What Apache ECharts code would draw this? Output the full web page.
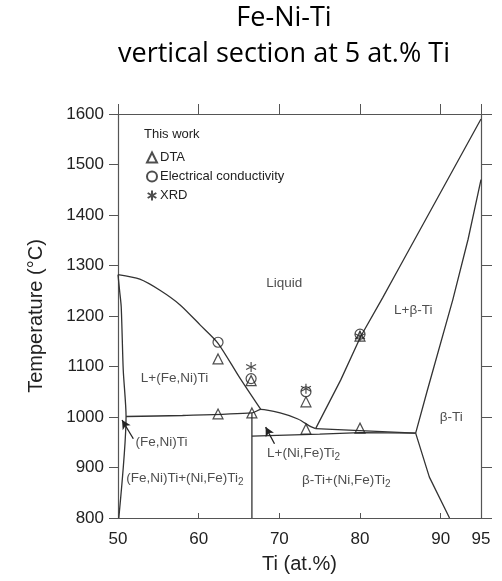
<!DOCTYPE html>
<html><head><meta charset="utf-8">
<script src="https://cdn.jsdelivr.net/npm/echarts@6/dist/echarts.min.js"></script>
<style>html,body{margin:0;padding:0;background:#fff}#c{width:502px;height:581px}</style>
</head><body><div id="c"></div>
<script>
// ---- text ----
const titleLines = ['Fe-Ni-Ti', 'vertical section at 5 at.% Ti'];
const xAxisName = 'Ti (at.%)';
const yAxisName = 'Temperature (°C)';
const legendHeader = 'This work';
const seriesNames = ['DTA', 'Electrical conductivity', 'XRD'];

// ---- measured points ----
const dtaPoints = [[62.4,1115],[66.5,1072],[73.3,1030],[80.0,1160],[62.4,1006],[66.6,1008],[73.3,976],[80.0,978]];
const conductivityPoints = [[62.4,1148],[66.5,1076],[73.3,1050],[80.0,1164]];
const xrdPoints = [[66.5,1099],[73.3,1056],[80.0,1160]];

// ---- phase boundaries ----
const liquidusFeNiTi = [[50,1282],[52.7,1273],[55.2,1251],[57.7,1222],[60.2,1182],[62.4,1146],[65.0,1080],[67.7,1015]];
const solvusFeNiTi = [[50,1282],[50.2,1250],[50.4,1218],[50.65,1093],[51.0,1001],[50.1,800]];
const eutecticLeft = [[51.0,1001],[58,1003],[66.6,1008],[67.7,1015],[70.1,1008],[72.3,996],[73.9,981],[74.5,977]];
const compoundLine = [[66.6,1008],[66.6,800]];
const lowerLine = [[66.6,962],[75,966],[80,969],[86.9,968]];
const upperLine = [[74.5,977],[80,973],[86.9,968]];
const liquidusBeta = [[74.5,977],[77.6,1073],[80.1,1160],[82.8,1236],[84.8,1294],[95,1590]];
const solidusBeta = [[86.9,968],[88.3,1050],[91.5,1232],[93.4,1352],[95,1470]];
const solvusBeta = [[86.9,968],[88.6,881],[91.1,800]];
const curvedBoundaries = [liquidusFeNiTi, solvusFeNiTi, eutecticLeft];
const straightBoundaries = [compoundLine, lowerLine, upperLine, liquidusBeta, solidusBeta, solvusBeta];

// ---- annotation arrows & region labels (data coords) ----
const arrowFeNiTi = [[51.9,957],[50.5,994]];
const arrowLNiFeTi2 = [[69.4,947],[68.3,980]];
const regionLabels = ['Liquid','L+(Fe,Ni)Ti','L+β-Ti','β-Ti','(Fe,Ni)Ti','(Fe,Ni)Ti+(Ni,Fe)Ti2','L+(Ni,Fe)Ti2','β-Ti+(Ni,Fe)Ti2'];
const regionLabelPos = [[70.6,1265],[57.0,1077],[86.6,1212],[91.3,1000],[55.4,950],[58.3,879],[73.0,929],[78.3,875]];

const chart = echarts.init(document.getElementById('c'));
const FONT = '"Liberation Sans", Arial, sans-serif';
const lineCol = '#333';
const axisCol = '#555';

function fmtLabel(t){
  if (/Ti2$/.test(t)) return '{a|' + t.slice(0,-1) + '}{s|2}';
  return '{a|' + t + '}';
}

const series = [];
curvedBoundaries.forEach(function(b){
  series.push({type:'line', data:b, showSymbol:false, symbol:'none', smooth:0.25, silent:true,
    lineStyle:{color:lineCol, width:1.3}, z:2});
});
straightBoundaries.forEach(function(b){
  series.push({type:'line', data:b, showSymbol:false, symbol:'none', smooth:false, silent:true,
    lineStyle:{color:lineCol, width:1.3}, z:2});
});
series.push({type:'scatter', name:seriesNames[0], data:dtaPoints, symbol:'triangle', symbolSize:10,
  itemStyle:{color:'rgba(255,255,255,0)', borderColor:'#222', borderWidth:1.2}, z:5});
series.push({type:'scatter', name:seriesNames[1], data:conductivityPoints, symbol:'circle', symbolSize:10,
  itemStyle:{color:'rgba(255,255,255,0)', borderColor:'#222', borderWidth:1.2}, z:5});
series.push({type:'scatter', name:seriesNames[2], data:xrdPoints,
  symbol:'path://M0,-5L0,5M-4.33,-2.5L4.33,2.5M-4.33,2.5L4.33,-2.5', symbolSize:10,
  itemStyle:{color:'rgba(0,0,0,0)', borderColor:'#222', borderWidth:1.2}, z:6});
series.push({type:'scatter', data:regionLabels.map(function(t,i){
    return {value:regionLabelPos[i], label:{formatter:fmtLabel(t)}};
  }), symbolSize:0, silent:true, z:4,
  label:{show:true, position:'inside', color:'#222',
    rich:{a:{fontFamily:FONT, fontSize:13.5, lineHeight:16, color:'#222'},
          s:{fontFamily:FONT, fontSize:10, lineHeight:16, padding:[8,0,0,0], color:'#222'}}},
  markLine:{silent:true, symbol:['none','arrow'], symbolSize:[7,9], animation:false,
    label:{show:false}, lineStyle:{color:'#222', width:1.3, type:'solid'},
    data:[arrowFeNiTi, arrowLNiFeTi2].map(function(a){
      return [{coord:a[0]},{coord:a[1]}];
    })}});

chart.setOption({
  animation:false,
  backgroundColor:'#fff',
  graphic:[
    {type:'text', x:284, y:18, style:{text:titleLines[0], font:'27px "Open Sans"', fill:'#000', align:'center', verticalAlign:'middle'}},
    {type:'text', x:284, y:54, style:{text:titleLines[1], font:'27px "Open Sans"', fill:'#000', align:'center', verticalAlign:'middle'}},
    {type:'text', x:144, y:134, style:{text:legendHeader, font:'13px "Liberation Sans"', fill:'#222', align:'left', verticalAlign:'middle'}}
  ],
  legend:{show:true, orient:'vertical', left:141, top:146, itemGap:6, itemWidth:10, itemHeight:10,
    data:seriesNames, textStyle:{fontFamily:FONT, fontSize:13, color:'#222', padding:[0,0,0,-2]}, selectedMode:false},
  grid:{left:118, right:21, top:114, bottom:63, containLabel:false},
  xAxis:[
    {type:'value', min:50, max:95, interval:10, position:'bottom', name:xAxisName, nameLocation:'middle', nameGap:36,
      nameTextStyle:{fontFamily:FONT, fontSize:20, color:'#222'},
      axisLine:{lineStyle:{color:axisCol, width:1.2}}, axisTick:{inside:true, length:5, lineStyle:{color:axisCol}},
      axisLabel:{fontFamily:FONT, fontSize:17, color:'#222', margin:13, formatter:function(v){return String(v);}}, splitLine:{show:false}},
    {type:'value', min:50, max:95, interval:10, position:'top',
      axisLine:{lineStyle:{color:axisCol, width:1.2}}, axisTick:{inside:false, length:10, lineStyle:{color:axisCol}},
      axisLabel:{show:false}, splitLine:{show:false}}
  ],
  yAxis:[
    {type:'value', min:800, max:1600, interval:100, position:'left', name:yAxisName, nameLocation:'middle', nameGap:72,
      nameTextStyle:{fontFamily:FONT, fontSize:20, color:'#222'},
      axisLine:{show:true, lineStyle:{color:axisCol, width:1.2}}, axisTick:{show:true, inside:false, length:9, lineStyle:{color:axisCol}},
      axisLabel:{fontFamily:FONT, fontSize:17, color:'#222', margin:14, formatter:function(v){return String(v);}}, splitLine:{show:false}},
    {type:'value', min:800, max:1600, interval:100, position:'right',
      axisLine:{show:true, lineStyle:{color:axisCol, width:1.2}}, axisTick:{show:true, inside:false, length:11, lineStyle:{color:axisCol}},
      axisLabel:{show:false}, splitLine:{show:false}}
  ],
  series:series
});
</script></body></html>
